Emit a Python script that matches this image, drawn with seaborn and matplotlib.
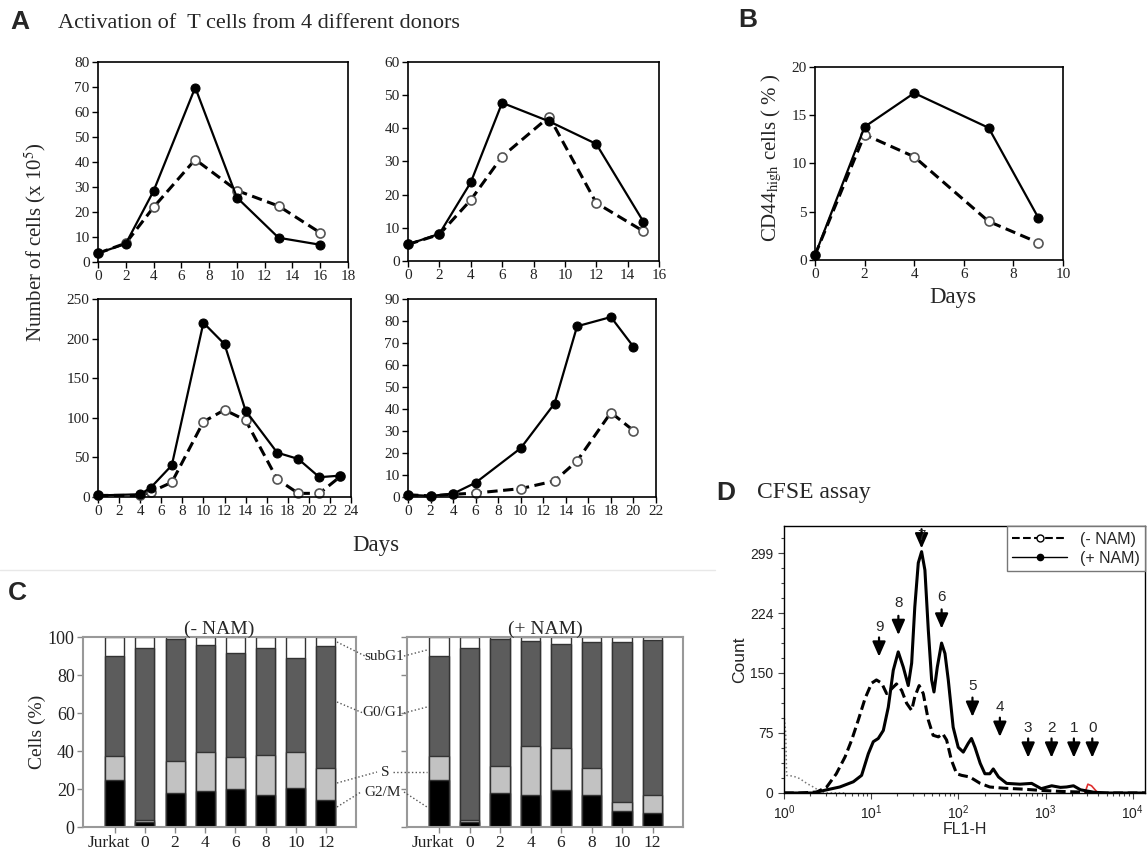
import numpy as np
import matplotlib
matplotlib.use("Agg")
import matplotlib.pyplot as plt
import matplotlib.transforms as mtrans
import seaborn as sns
from matplotlib.lines import Line2D
from matplotlib.ticker import MultipleLocator, LogLocator, FuncFormatter, NullFormatter

# ---- Panel A: cell counts (x 10^5) for 4 donors ----
d1_days = [0, 2, 4, 7, 10, 13, 16]
d1_nam = [3.5, 7.3, 28.4, 69.8, 25.8, 9.7, 6.9]
d1_ctrl = [3.5, 7.5, 21.9, 41.0, 28.6, 22.4, 11.7]

d2_days = [0, 2, 4, 6, 9, 12, 15]
d2_nam = [5.0, 8.2, 23.7, 47.7, 42.1, 35.3, 11.9]
d2_ctrl = [5.0, 8.0, 18.4, 31.5, 43.5, 17.5, 9.0]

d3_days = [0, 4, 5, 7, 10, 12, 14, 17, 19, 21, 23]
d3_nam = [2, 3.4, 11.8, 40, 220, 193, 109, 56, 48, 25, 27]
d3_ctrl = [2, 2, 6.3, 18.5, 95, 110, 97, 22.5, 4.6, 4.6, 26]

d4_days = [0, 2, 4, 6, 10, 13, 15, 18, 20]
d4_nam = [1, 0.5, 1.5, 6.5, 22.2, 42.5, 77.6, 81.8, 68.3]
d4_ctrl = [1, 0.5, 1.2, 1.8, 3.8, 7.3, 16.4, 38.4, 30.2]

# ---- Panel B: CD44 high cells (%) ----
b_days = [0, 2, 4, 7, 9]
b_nam = [0.5, 13.8, 17.3, 13.7, 4.4]
b_ctrl = [0.5, 13.0, 10.7, 4.0, 1.8]

# ---- Panel C: cell cycle phases (%) ----
c_groups = ["Jurkat", "0", "2", "4", "6", "8", "10", "12"]
phases = ["G2/M", "S", "G0/G1", "subG1"]
minus_g2m = [25.0, 2.5, 17.8, 18.7, 19.8, 16.6, 20.5, 14.1]
minus_s = [12.6, 1.4, 16.7, 20.9, 17.3, 21.2, 19.1, 17.2]
minus_g0g1 = [52.4, 90.4, 64.3, 56.2, 54.6, 56.5, 49.1, 63.8]
minus_subg1 = [10.0, 5.7, 1.2, 4.2, 8.3, 5.7, 11.3, 4.9]
plus_g2m = [25.0, 2.5, 17.8, 17.1, 19.3, 16.8, 8.5, 7.4]
plus_s = [12.6, 1.4, 14.2, 25.5, 22.4, 14.5, 4.6, 9.2]
plus_g0g1 = [52.4, 90.4, 67.1, 55.4, 54.6, 66.0, 84.2, 81.6]
plus_subg1 = [10.0, 5.7, 0.9, 2.0, 3.7, 2.7, 2.7, 1.8]

# ---- Panel D: CFSE histogram (FL1-H in log10 units, count) ----
nam_log = [0.0, 0.34, 0.45, 0.64, 0.795, 0.89, 0.967, 1.024, 1.081, 1.139, 1.196,
           1.253, 1.31, 1.368, 1.425, 1.464, 1.50, 1.54, 1.578, 1.616, 1.655,
           1.693, 1.72, 1.758, 1.807, 1.846, 1.884, 1.94, 1.998, 2.056, 2.113,
           2.15, 2.19, 2.25, 2.304, 2.36, 2.40, 2.46, 2.553, 2.706, 2.84, 2.95,
           3.07, 3.17, 3.24, 3.32, 3.40, 3.55, 3.70, 4.14]
nam_count = [0, 0, 3, 7.5, 14, 22, 49, 64, 68, 78, 107,
             153, 176, 157, 134, 162, 232, 287, 301, 278, 203,
             141, 126, 157, 187, 174, 141, 82, 57, 51, 62,
             68, 57, 37, 24, 24, 30, 20, 12, 11, 12, 5.4,
             9, 7, 7.5, 9, 4, 1, 0, 0]
ctrl_log = [0.0, 0.18, 0.375, 0.49, 0.60, 0.70, 0.776, 0.852, 0.93, 1.005, 1.06,
            1.12, 1.177, 1.234, 1.29, 1.349, 1.406, 1.464, 1.50, 1.55, 1.597,
            1.655, 1.71, 1.77, 1.82, 1.865, 1.92, 1.98, 2.037, 2.13, 2.25,
            2.36, 2.52, 2.71, 2.94, 3.17, 3.40, 3.62, 4.14]
ctrl_count = [0, 0, 1.2, 7.5, 24, 45, 66, 91, 118, 137, 141,
              137, 124, 130, 136, 128, 112, 103, 120, 134, 124,
              91, 72, 70, 74, 66, 41, 24, 22, 20, 12,
              7.5, 6, 5, 3.3, 2, 1.2, 0, 0]
neg_log = [0.0, 0.01, 0.02, 0.03, 0.107, 0.18, 0.26, 0.336, 0.41, 0.49, 0.7]
neg_count = [98, 86, 74, 22, 21, 18, 12, 7.5, 2.5, 0, 0]
undiv_log = [3.45, 3.485, 3.527, 3.60]
undiv_count = [0, 11, 9, 0]

gen_labels = ["9", "8", "7", "6", "5", "4", "3", "2", "1", "0"]
gen_fl1 = [12.3, 20.5, 37.8, 64.2, 145, 299, 631, 1170, 2110, 3430]
gen_tip = [170, 197, 305, 205, 95, 70, 44, 44, 44, 44]
gen_label_y = [207, 237, 320, 245, 133, 107, 81, 81, 81, 81]

W, H = 1147, 851
sns.set_theme(style="white")
plt.rcParams["font.family"] = ["Liberation Serif", "DejaVu Serif"]
plt.rcParams["mathtext.fontset"] = "stix"
SANS = "Liberation Sans"

fig = plt.figure(figsize=(W / 100, H / 100), dpi=100)


def px_axes(l, t, r, b):
    return fig.add_axes([l / W, 1 - b / H, (r - l) / W, (b - t) / H])


def fig_text(x, y, s, **kw):
    fig.text(x / W, 1 - y / H, s, **kw)


def fig_line(x1, y1, x2, y2, **kw):
    fig.add_artist(Line2D([x1 / W, x2 / W], [1 - y1 / H, 1 - y2 / H],
                          transform=fig.transFigure, **kw))


def draw_pair(ax, days, nam, ctrl, ms=6.5):
    sns.lineplot(x=days, y=ctrl, ax=ax, color="black", lw=2.2,
                 linestyle=(0, (3.4, 1.8)), marker="o", markersize=ms,
                 markerfacecolor="white", markeredgecolor="#555555",
                 markeredgewidth=1.2, estimator=None, errorbar=None, clip_on=False)
    sns.lineplot(x=days, y=nam, ax=ax, color="black", lw=1.6, marker="o",
                 markersize=ms, markerfacecolor="black", markeredgecolor="black",
                 estimator=None, errorbar=None, clip_on=False)


def style_line_axes(ax, xmax, ymax, ystep):
    ax.set_xlim(0, xmax)
    ax.set_ylim(0, ymax)
    ax.set_xticks(range(0, xmax + 1, 2))
    ax.set_yticks(range(0, ymax + 1, ystep))
    ax.tick_params(direction="out", length=4, width=1, labelsize=11,
                   bottom=True, left=True, colors="black", labelcolor="#222222", pad=2)
    for s in ax.spines.values():
        s.set_color("black")
        s.set_linewidth(1.2)


# Panel A
ax = px_axes(98, 62, 348, 262)
draw_pair(ax, d1_days, d1_nam, d1_ctrl)
style_line_axes(ax, 18, 80, 10)

ax = px_axes(408, 62, 659, 261)
draw_pair(ax, d2_days, d2_nam, d2_ctrl)
style_line_axes(ax, 16, 60, 10)

ax = px_axes(98, 299, 351, 497)
draw_pair(ax, d3_days, d3_nam, d3_ctrl)
style_line_axes(ax, 24, 250, 50)

ax = px_axes(408, 299, 656, 497)
draw_pair(ax, d4_days, d4_nam, d4_ctrl)
style_line_axes(ax, 22, 90, 10)

fig_text(10, 22, "A", fontsize=19, fontweight="bold", family=SANS, va="center")
fig_text(58, 24, "Activation of  T cells from 4 different donors", fontsize=16, va="center")
fig_text(35, 242, "Number of cells (x 10$^5$)", fontsize=15, rotation=90,
         ha="center", va="center")
fig_text(376, 545, "Days", fontsize=16.5, ha="center", va="center")

# Panel B
ax = px_axes(815, 67, 1063, 260)
draw_pair(ax, b_days, b_nam, b_ctrl)
style_line_axes(ax, 10, 20, 5)
fig_text(738, 20, "B", fontsize=19, fontweight="bold", family=SANS, va="center")
fig_text(772, 158, "CD44$_{\\mathrm{high}}$ cells ( % )", fontsize=15, rotation=90,
         ha="center", va="center")
fig_text(953, 298, "Days", fontsize=16.5, ha="center", va="center")

# Panel C
phase_colors = {"G2/M": "black", "S": "#c2c2c2", "G0/G1": "#5c5c5c", "subG1": "white"}


def draw_stack(ax, g2m, s, g0g1, subg1, title):
    parts = np.array([g2m, s, g0g1, subg1])
    tops = np.cumsum(parts, axis=0)
    for i in range(len(phases) - 1, -1, -1):
        sns.barplot(x=c_groups, y=tops[i], order=c_groups, color=phase_colors[phases[i]],
                    saturation=1, width=0.63, edgecolor="#333333", linewidth=1,
                    errorbar=None, ax=ax)
    ax.set_xlim(-1.05, 8.0)
    ax.set_ylim(0, 100)
    ax.set_yticks(range(0, 101, 20))
    ax.tick_params(direction="out", length=4, width=1, labelsize=13, bottom=True,
                   left=True, colors="#888888", labelcolor="#222222", pad=2)
    ax.tick_params(axis="x", labelsize=12.5)
    # nudge "Jurkat" left so it clears the "0"
    first = ax.get_xticklabels()[0]
    first.set_transform(first.get_transform() +
                        mtrans.ScaledTranslation(-6 / 100, 0, fig.dpi_scale_trans))
    for sp in ax.spines.values():
        sp.set_color("#999999")
        sp.set_linewidth(1.5)
    ax.set_title(title, fontsize=14, pad=2)


ax = px_axes(83, 637, 356, 827)
draw_stack(ax, minus_g2m, minus_s, minus_g0g1, minus_subg1, "(- NAM)")
ax = px_axes(407, 637, 683, 827)
draw_stack(ax, plus_g2m, plus_s, plus_g0g1, plus_subg1, "(+ NAM)")
ax.tick_params(labelleft=False)

fig_text(8, 593, "C", fontsize=19, fontweight="bold", family=SANS, va="center")
fig_text(37, 732, "Cells (%)", fontsize=14, rotation=90, ha="center", va="center")
fig_line(0, 570, 715, 570, color="#e8e8e8", lw=1)

lab_y = [656, 713, 772, 792]
lab_l = [366, 364, 378, 362]
lab_r = [403, 403, 392, 403]
left_start = [642, 702, 783, 807]
right_end = [650, 707, 772, 807]
for name, y, xl, xr, ys, ye in zip(phases[::-1], lab_y, lab_l, lab_r, left_start, right_end):
    fig_text((xl + xr) / 2, y, name, fontsize=11, ha="center", va="center")
    fig_line(337, ys, xl - 1, y, color="#555555", lw=1, ls=":")
    fig_line(xr + 1, y, 427, ye, color="#555555", lw=1, ls=":")

# Panel D
ax = px_axes(784, 526, 1145, 793)
ax.set_xscale("log")
sns.lineplot(x=10 ** np.array(neg_log), y=neg_count, ax=ax, color="#777777", lw=1.1,
             linestyle=":", estimator=None, errorbar=None)
sns.lineplot(x=10 ** np.array(undiv_log), y=undiv_count, ax=ax, color="#e03030", lw=1.2,
             estimator=None, errorbar=None)
sns.lineplot(x=10 ** np.array(ctrl_log), y=ctrl_count, ax=ax, color="black", lw=2.2,
             linestyle=(0, (3.2, 1.5)), estimator=None, errorbar=None)
sns.lineplot(x=10 ** np.array(nam_log), y=nam_count, ax=ax, color="black", lw=2.2,
             estimator=None, errorbar=None)
ax.set_xlim(1, 10 ** 4.14)
ax.set_ylim(0, 333)
ax.set_yticks([0, 75, 150, 224, 299])
ax.yaxis.set_minor_locator(MultipleLocator(18.7))
ax.xaxis.set_major_locator(LogLocator(base=10, numticks=10))
ax.xaxis.set_minor_locator(LogLocator(base=10, subs=np.arange(2, 10), numticks=50))
ax.xaxis.set_minor_formatter(NullFormatter())
ax.xaxis.set_major_formatter(FuncFormatter(
    lambda v, p: "$\\mathregular{10^{%d}}$" % round(np.log10(v))))
ax.tick_params(which="both", direction="out", bottom=True, left=True, colors="#444444",
               labelcolor="#222222", labelsize=10, width=0.8)
ax.tick_params(which="major", length=4)
ax.tick_params(which="minor", length=2.5)
for lbl in ax.get_xticklabels() + ax.get_yticklabels():
    lbl.set_family(SANS)
for sp in ax.spines.values():
    sp.set_color("black")
    sp.set_linewidth(1)
ax.set_xlabel("FL1-H", fontsize=11.5, family=SANS, labelpad=0)
ax.set_ylabel("Count", fontsize=12.5, family=SANS, labelpad=2)

for lab, xv, tip, ly in zip(gen_labels, gen_fl1, gen_tip, gen_label_y):
    tail = min(tip + 24, 333)
    ax.annotate("", xy=(xv, tip), xytext=(xv, tail),
                arrowprops=dict(arrowstyle="-|>,head_width=0.33,head_length=0.75",
                                color="black", lw=1.6, shrinkA=0, shrinkB=0))
    ax.text(xv, ly, lab, fontsize=11, family=SANS, ha="center", va="center", clip_on=True)

handles = [
    Line2D([0], [0], color="black", ls="--", lw=1.5, marker="o", ms=5,
           mfc="white", mec="black"),
    Line2D([0], [0], color="black", ls="-", lw=1, marker="o", ms=4.5,
           mfc="black", mec="black"),
]
leg = ax.legend(handles, ["(- NAM)", "(+ NAM)"], loc="upper right", borderaxespad=0,
                fancybox=False, edgecolor="#777777", framealpha=1, handlelength=3.4,
                prop={"family": SANS, "size": 11.5}, borderpad=0.35, labelspacing=0.25)

fig_text(716, 493, "D", fontsize=19, fontweight="bold", family=SANS, va="center")
fig_text(757, 493, "CFSE assay", fontsize=17, va="center")

fig.savefig("out.png", dpi=100)
